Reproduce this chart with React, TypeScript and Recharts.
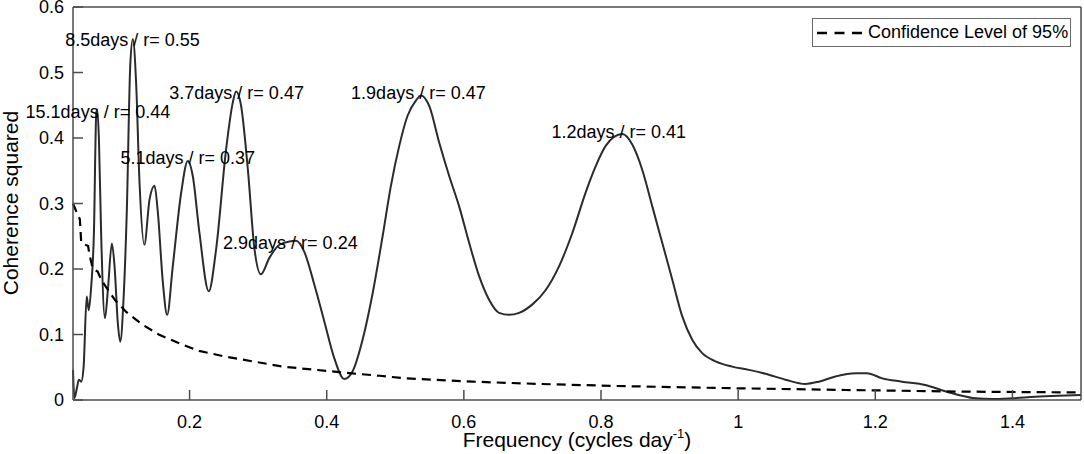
import React from 'react';
import {
  ComposedChart,
  Line,
  Scatter,
  XAxis,
  YAxis,
  Legend,
  Label,
} from 'recharts';

// coherence squared
const freq = [
  0.03, 0.032, 0.036, 0.0386, 0.042, 0.0455, 0.05, 0.053, 0.0566, 0.0605,
  0.064, 0.0655, 0.0678, 0.071, 0.0766, 0.081, 0.0867, 0.0906, 0.0954, 0.0989,
  0.1037, 0.1085, 0.1135, 0.1173, 0.122, 0.127, 0.134, 0.1416, 0.1489, 0.1537,
  0.161, 0.1673, 0.1755, 0.1877, 0.1974, 0.2047, 0.2144, 0.228, 0.2387, 0.2533,
  0.263, 0.2678, 0.275, 0.285, 0.2945, 0.304, 0.3164, 0.331, 0.3455, 0.3553,
  0.367, 0.382, 0.3965, 0.411, 0.4256, 0.4378, 0.4523, 0.467, 0.4815, 0.4936,
  0.5058, 0.5179, 0.53, 0.5374, 0.5495, 0.564, 0.5786, 0.593, 0.6077, 0.6223,
  0.6368, 0.6514, 0.666, 0.6805, 0.7, 0.7194, 0.7388, 0.7582, 0.7777, 0.7923,
  0.8068, 0.831, 0.8456, 0.86, 0.8747, 0.8893, 0.9039, 0.9184, 0.933, 0.9476,
  0.967, 0.9913, 1.0156, 1.04, 1.069, 1.098, 1.1176, 1.142, 1.171, 1.188,
  1.21, 1.239, 1.273, 1.297, 1.3215, 1.3458, 1.37, 1.399, 1.433, 1.467, 1.5,
];
const coherence = [
  0.046, 0.003, 0.02, 0.031, 0.028, 0.051, 0.158, 0.137, 0.174, 0.255,
  0.439, 0.443, 0.398, 0.255, 0.125, 0.17, 0.239, 0.204, 0.117, 0.089,
  0.154, 0.29, 0.511, 0.551, 0.485, 0.332, 0.237, 0.306, 0.327, 0.287,
  0.18, 0.13, 0.204, 0.316, 0.365, 0.342, 0.255, 0.166, 0.23, 0.383,
  0.454, 0.471, 0.45, 0.352, 0.232, 0.192, 0.217, 0.237, 0.242, 0.243,
  0.227, 0.176, 0.12, 0.064, 0.032, 0.044, 0.092, 0.163, 0.25, 0.327,
  0.388, 0.434, 0.457, 0.465, 0.449, 0.393, 0.342, 0.296, 0.24, 0.189,
  0.153, 0.133, 0.13, 0.133, 0.146, 0.168, 0.204, 0.255, 0.317, 0.357,
  0.388, 0.406, 0.39, 0.352, 0.296, 0.24, 0.184, 0.128, 0.092, 0.0715,
  0.059, 0.051, 0.046, 0.04, 0.031, 0.0245, 0.028, 0.036, 0.041, 0.041,
  0.033, 0.028, 0.023, 0.015, 0.0077, 0.0026, 0.0015, 0.0026, 0.005, 0.0066, 0.0077,
];

// 95% confidence level
const confFreq = [
  0.03, 0.036, 0.04, 0.042, 0.052, 0.054, 0.059, 0.066, 0.071, 0.079,
  0.091, 0.108, 0.13, 0.155, 0.186, 0.214, 0.253, 0.292, 0.336, 0.384,
  0.433, 0.477, 0.516, 0.613, 0.71, 0.821, 0.991, 1.157, 1.326, 1.5,
];
const confLevel = [
  0.3, 0.285, 0.276, 0.24, 0.235, 0.222, 0.2, 0.196, 0.184, 0.171,
  0.153, 0.134, 0.116, 0.1, 0.086, 0.075, 0.066, 0.059, 0.051, 0.046,
  0.041, 0.037, 0.033, 0.028, 0.0245, 0.0214, 0.018, 0.0153, 0.0128, 0.0115,
];

// peak annotations
const peakDays = ['15.1', '8.5', '5.1', '3.7', '2.9', '1.9', '1.2'];
const peakR = [0.44, 0.55, 0.37, 0.47, 0.24, 0.47, 0.41];
const peakFreq = [0.0663, 0.1168, 0.1974, 0.2686, 0.347, 0.5337, 0.826];

const xTicks = [0.2, 0.4, 0.6, 0.8, 1, 1.2, 1.4];
const yTicks = [0, 0.1, 0.2, 0.3, 0.4, 0.5, 0.6];

const coherenceData = freq.map((f, i) => ({ f, c: coherence[i] }));
const confData = confFreq.map((f, i) => ({ f, conf: confLevel[i] }));
const peakData = peakFreq.map((f, i) => ({
  f,
  r: peakR[i],
  text: `${peakDays[i]}days / r= ${peakR[i].toFixed(2)}`,
}));

const FONT = '"Liberation Sans", Arial, sans-serif';
const AXIS = '#4d4d4d';
const AXIS_W = 1.5;
const TICK = 10;

const BottomTick = ({ x, y, payload }: any) => (
  <g>
    <line x1={x} x2={x} y1={y} y2={y - TICK} stroke={AXIS} strokeWidth={AXIS_W} />
    <text x={x} y={y + 28} textAnchor="middle" fontSize={18} fontFamily={FONT} fill="#000">
      {String(payload.value)}
    </text>
  </g>
);

const TopTick = ({ x, y }: any) => (
  <line x1={x} x2={x} y1={y} y2={y + TICK} stroke={AXIS} strokeWidth={AXIS_W} />
);

const LeftTick = ({ x, y, payload }: any) => (
  <g>
    <line x1={x} x2={x + TICK} y1={y} y2={y} stroke={AXIS} strokeWidth={AXIS_W} />
    <text x={x - 9} y={y} dy="0.36em" textAnchor="end" fontSize={18} fontFamily={FONT} fill="#000">
      {String(payload.value)}
    </text>
  </g>
);

const RightTick = ({ x, y }: any) => (
  <line x1={x} x2={x - TICK} y1={y} y2={y} stroke={AXIS} strokeWidth={AXIS_W} />
);

const PeakLabel = ({ cx, cy, payload }: any) => (
  <text x={cx} y={cy} dy="0.36em" textAnchor="middle" fontSize={18} fontFamily={FONT} fill="#000">
    {payload.text}
  </text>
);

const XTitle = ({ viewBox }: any) => (
  <text
    x={viewBox.x + viewBox.width / 2}
    y={447}
    textAnchor="middle"
    fontSize={21}
    fontFamily={FONT}
    fill="#000"
  >
    Frequency (cycles day
    <tspan dy={-9} fontSize={13}>-1</tspan>
    <tspan dy={9}>)</tspan>
  </text>
);

const LegendBox = ({ payload }: any) => (
  <div
    style={{
      border: '1.5px solid #6a6a6a',
      background: '#fff',
      height: 29,
      display: 'flex',
      alignItems: 'center',
      fontFamily: FONT,
      fontSize: 18,
      color: '#000',
      boxSizing: 'border-box',
      whiteSpace: 'nowrap',
    }}
  >
    {(payload || [])
      .filter((entry: any) => entry.dataKey === 'conf')
      .map((entry: any) => (
        <span key={entry.value} style={{ display: 'flex', alignItems: 'center' }}>
          <svg width={52} height={10}>
            <line x1={4} x2={49} y1={5} y2={5} stroke="#000" strokeWidth={2.5} strokeDasharray="10 7.5" />
          </svg>
          <span style={{ marginLeft: 3 }}>{entry.value}</span>
        </span>
      ))}
  </div>
);

export default function App() {
  return (
    <div style={{ position: 'absolute', left: 0, top: 0, background: '#fff' }}>
      <ComposedChart width={1084} height={454} margin={{ top: 6, right: 2, left: 0, bottom: 0 }}>
        <XAxis
          xAxisId="bottom"
          dataKey="f"
          type="number"
          domain={[0.03, 1.5]}
          ticks={xTicks}
          interval={0}
          height={54}
          tickSize={0}
          tickMargin={0}
          tickLine={false}
          tick={<BottomTick />}
          axisLine={{ stroke: AXIS, strokeWidth: AXIS_W }}
        >
          <Label content={<XTitle />} />
        </XAxis>
        <XAxis
          xAxisId="top"
          orientation="top"
          dataKey="f"
          type="number"
          domain={[0.03, 1.5]}
          ticks={xTicks}
          interval={0}
          height={1}
          tickSize={0}
          tickMargin={0}
          tickLine={false}
          tick={<TopTick />}
          axisLine={{ stroke: AXIS, strokeWidth: AXIS_W }}
        />
        <YAxis
          yAxisId="left"
          type="number"
          domain={[0, 0.6]}
          ticks={yTicks}
          interval={0}
          width={73}
          tickSize={0}
          tickMargin={0}
          tickLine={false}
          tick={<LeftTick />}
          axisLine={{ stroke: AXIS, strokeWidth: AXIS_W }}
        >
          <Label
            content={() => (
              <text
                x={18}
                y={203}
                transform="rotate(-90, 18, 203)"
                textAnchor="middle"
                fontSize={21}
                fontFamily={FONT}
                fill="#000"
              >
                Coherence squared
              </text>
            )}
          />
        </YAxis>
        <YAxis
          yAxisId="right"
          orientation="right"
          type="number"
          domain={[0, 0.6]}
          ticks={yTicks}
          interval={0}
          width={1}
          tickSize={0}
          tickMargin={0}
          tickLine={false}
          tick={<RightTick />}
          axisLine={{ stroke: AXIS, strokeWidth: AXIS_W }}
        />
        <Legend
          layout="horizontal"
          verticalAlign="middle"
          align="center"
          wrapperStyle={{ top: 18, left: 812, width: 259 }}
          content={<LegendBox />}
        />
        <Line
          xAxisId="bottom"
          yAxisId="left"
          data={coherenceData}
          dataKey="c"
          type="monotone"
          stroke="#2b2b2b"
          strokeWidth={2}
          dot={false}
          legendType="none"
          isAnimationActive={false}
        />
        <Line
          xAxisId="bottom"
          yAxisId="left"
          data={confData}
          dataKey="conf"
          name="Confidence Level of 95%"
          type="linear"
          stroke="#000"
          strokeWidth={2.2}
          strokeDasharray="9 6"
          dot={false}
          isAnimationActive={false}
        />
        <Scatter
          xAxisId="bottom"
          yAxisId="left"
          data={peakData}
          dataKey="r"
          shape={<PeakLabel />}
          legendType="none"
          isAnimationActive={false}
        />
      </ComposedChart>
    </div>
  );
}
